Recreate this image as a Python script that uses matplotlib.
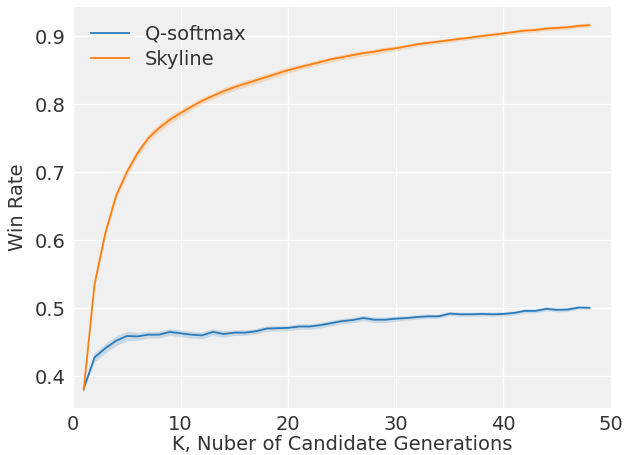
import numpy as np
import matplotlib
matplotlib.use("Agg")
import matplotlib.pyplot as plt

# Data
k = list(range(1, 49))

skyline = [0.380, 0.535, 0.610, 0.665, 0.700, 0.728, 0.750, 0.765, 0.777, 0.787,
           0.796, 0.805, 0.812, 0.819, 0.825, 0.830, 0.835, 0.840, 0.845, 0.850,
           0.854, 0.858, 0.862, 0.866, 0.869, 0.872, 0.875, 0.877, 0.880, 0.882,
           0.885, 0.888, 0.890, 0.892, 0.894, 0.896, 0.898, 0.900, 0.902, 0.904,
           0.906, 0.908, 0.909, 0.911, 0.912, 0.913, 0.915, 0.916]
skyline_err = [0.002, 0.005, 0.006, 0.006, 0.006, 0.006, 0.006, 0.006, 0.006, 0.006,
               0.005, 0.005, 0.005, 0.005, 0.005, 0.005, 0.005, 0.005, 0.005, 0.005,
               0.004, 0.004, 0.004, 0.004, 0.004, 0.004, 0.004, 0.004, 0.004, 0.004,
               0.003, 0.003, 0.003, 0.003, 0.003, 0.003, 0.003, 0.003, 0.003, 0.003,
               0.003, 0.003, 0.003, 0.003, 0.003, 0.003, 0.003, 0.003]

qsoftmax = [0.382, 0.4275, 0.441, 0.452, 0.459, 0.4585, 0.461, 0.461, 0.465, 0.463,
            0.461, 0.460, 0.465, 0.462, 0.464, 0.464, 0.466, 0.470, 0.4705, 0.471,
            0.473, 0.473, 0.475, 0.478, 0.481, 0.4825, 0.4855, 0.483, 0.483, 0.4845,
            0.4855, 0.487, 0.488, 0.488, 0.492, 0.491, 0.491, 0.4915, 0.491, 0.4915,
            0.493, 0.496, 0.496, 0.499, 0.4975, 0.498, 0.501, 0.5005]
qsoftmax_err = [0.002, 0.007, 0.007, 0.007, 0.007, 0.006, 0.005, 0.005, 0.005, 0.005,
                0.005, 0.005, 0.005, 0.005, 0.004, 0.004, 0.004, 0.004, 0.004, 0.004,
                0.004, 0.004, 0.004, 0.004, 0.004, 0.004, 0.004, 0.004, 0.004, 0.004,
                0.003, 0.003, 0.003, 0.003, 0.003, 0.003, 0.003, 0.003, 0.003, 0.003,
                0.003, 0.003, 0.003, 0.003, 0.003, 0.003, 0.002, 0.002]

plt.rcParams["font.family"] = ["DejaVu Sans"]
plt.rcParams["font.size"] = 14

fig, ax = plt.subplots(figsize=(6.25, 4.55), dpi=100)
fig.subplots_adjust(left=0.1168, right=0.9776, top=0.985, bottom=0.103)

ax.set_facecolor("#f0f0f0")
ax.grid(True, color="white", linewidth=1.0)
ax.set_axisbelow(True)
for s in ax.spines.values():
    s.set_visible(False)
ax.tick_params(length=0, colors="#333333", labelsize=14, pad=5)

series = [("Q-softmax", qsoftmax, qsoftmax_err, "#2b7bba"),
          ("Skyline", skyline, skyline_err, "#ff7f0e")]
for name, vals, err, col in series:
    vals = np.array(vals)
    err = np.array(err)
    ax.plot(k, vals, color=col, linewidth=1.3, label=name)
    ax.fill_between(k, vals - err, vals + err, color=col, alpha=0.2, linewidth=0)

ax.set_xlim(0, 50)
ax.set_ylim(0.353, 0.943)
ax.set_xticks([0, 10, 20, 30, 40, 50])
ax.set_yticks([0.4, 0.5, 0.6, 0.7, 0.8, 0.9])
ax.set_xlabel("K, Nuber of Candidate Generations", color="#333333", fontsize=14, labelpad=1)
ax.set_ylabel("Win Rate", color="#333333", fontsize=14, labelpad=6)

ax.legend(loc="upper left", frameon=False, fontsize=14, handlelength=2.0,
          labelspacing=0.35, labelcolor="#333333")

fig.savefig("out.png", dpi=100)
